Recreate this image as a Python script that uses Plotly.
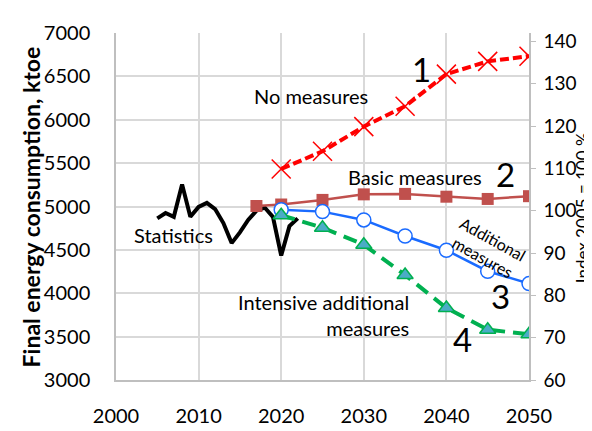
import plotly.graph_objects as go

# ---- data ----
stat_years = list(range(2005, 2023))
stat_values = [4863, 4925, 4881, 5255, 4881, 4995, 5041, 4970, 4809, 4578,
               4702, 4845, 4952, 4988, 4880, 4435, 4774, 4863]

proj_years = [2020, 2025, 2030, 2035, 2040, 2045, 2050]
no_measures = [5433, 5636, 5921, 6156, 6526, 6673, 6733]
basic_years = [2017, 2020, 2025, 2030, 2035, 2040, 2045, 2050]
basic_measures = [5006, 5023, 5076, 5140, 5145, 5113, 5087, 5119]
additional_measures = [4963, 4941, 4845, 4660, 4496, 4254, 4111]
intensive_measures = [4899, 4756, 4560, 4211, 3830, 3580, 3527]

x_ticks = [2000, 2010, 2020, 2030, 2040, 2050]
y_ticks = [3000, 3500, 4000, 4500, 5000, 5500, 6000, 6500, 7000]
y2_ticks = [60, 70, 80, 90, 100, 110, 120, 130, 140]

FONT = "Lato"
TXT = 20
fig = go.Figure()

fig.add_trace(go.Scatter(x=stat_years, y=stat_values, mode="lines",
                         line=dict(color="black", width=4), showlegend=False))
fig.add_trace(go.Scatter(x=proj_years, y=no_measures, mode="lines+markers",
                         line=dict(color="#FF0000", width=4, dash="9px,4px"),
                         marker=dict(symbol="x-thin", size=19,
                                     line=dict(color="#FF0000", width=1.5)),
                         showlegend=False))
fig.add_trace(go.Scatter(x=basic_years, y=basic_measures, mode="lines+markers",
                         line=dict(color="#C0504D", width=2.5),
                         marker=dict(symbol="square", size=12, color="#C0504D"),
                         showlegend=False))
fig.add_trace(go.Scatter(x=proj_years, y=additional_measures, mode="lines+markers",
                         line=dict(color="#1A6BFF", width=2.5),
                         marker=dict(symbol="circle", size=14, color="white",
                                     line=dict(color="#1A6BFF", width=1.5)),
                         showlegend=False))
fig.add_trace(go.Scatter(x=proj_years, y=intensive_measures, mode="lines+markers",
                         line=dict(color="#00B050", width=4, dash="14px,8px"),
                         marker=dict(symbol="triangle-up", size=14, color="#4BACC6",
                                     line=dict(color="#00B050", width=1.5)),
                         showlegend=False))
# anchor secondary axis
fig.add_trace(go.Scatter(x=[None], y=[None], yaxis="y2", showlegend=False,
                         hoverinfo="skip"))

grid = "#D9D9D9"
axline = "#BFBFBF"
fig.update_layout(
    width=592, height=431,
    margin=dict(l=108, r=71, t=22, b=35),
    paper_bgcolor="white", plot_bgcolor="white",
    font=dict(family=FONT, size=TXT, color="black"),
    xaxis=dict(range=[2000, 2050], tickvals=x_ticks, showgrid=True,
               gridcolor=grid, gridwidth=1.5, showline=True, linecolor=axline,
               linewidth=1.5, ticks="", zeroline=False, ticklabelstandoff=17,
               tickfont=dict(size=TXT)),
    yaxis=dict(range=[3000, 7000], tickvals=y_ticks, showgrid=True,
               gridcolor=grid, gridwidth=1.5, showline=True, linecolor=axline,
               linewidth=1.5, ticks="", zeroline=False, ticklabelstandoff=20,
               tickfont=dict(size=TXT)),
    yaxis2=dict(range=[60, 142], tickvals=y2_ticks, overlaying="y", side="right",
                showgrid=False, showline=True, linecolor=axline, linewidth=1.5,
                ticks="outside", ticklen=5, tickcolor=axline, zeroline=False,
                ticklabelstandoff=4, tickfont=dict(size=19)),
)

ann = []
def label(text, x, y, size=TXT, **kw):
    ann.append(dict(text=text, x=x, y=y, xref="x", yref="y", showarrow=False,
                    font=dict(family=FONT, size=size, color="black"), **kw))

label("No measures", 2023.6, 6277)
label("1", 2037.0, 6590, size=33)
label("Basic measures", 2036.2, 5337)
label("2", 2047.1, 5370, size=33)
label("Statistics", 2007.0, 4667)
label("Additional<br>measures", 2045.0, 4525, size=16, textangle=29)
label("3", 2046.5, 3972, size=33)
label("Intensive additional<br>measures", 2035.7, 3753, xanchor="right", align="right")
label("4", 2042.0, 3478, size=33)

ann.append(dict(text="<b>Final energy consumption, ktoe</b>", x=-0.206, y=0.5,
                xref="paper", yref="paper", showarrow=False, textangle=-90,
                xanchor="center", yanchor="middle",
                font=dict(family=FONT, size=23, color="black")))
ann.append(dict(text="Index 2005 = 100 %", x=1.13, y=0.497,
                xref="paper", yref="paper", showarrow=False, textangle=-90,
                xanchor="center", yanchor="middle",
                font=dict(family=FONT, size=17, color="black")))
fig.update_layout(annotations=ann)

fig.write_html("out.html")
